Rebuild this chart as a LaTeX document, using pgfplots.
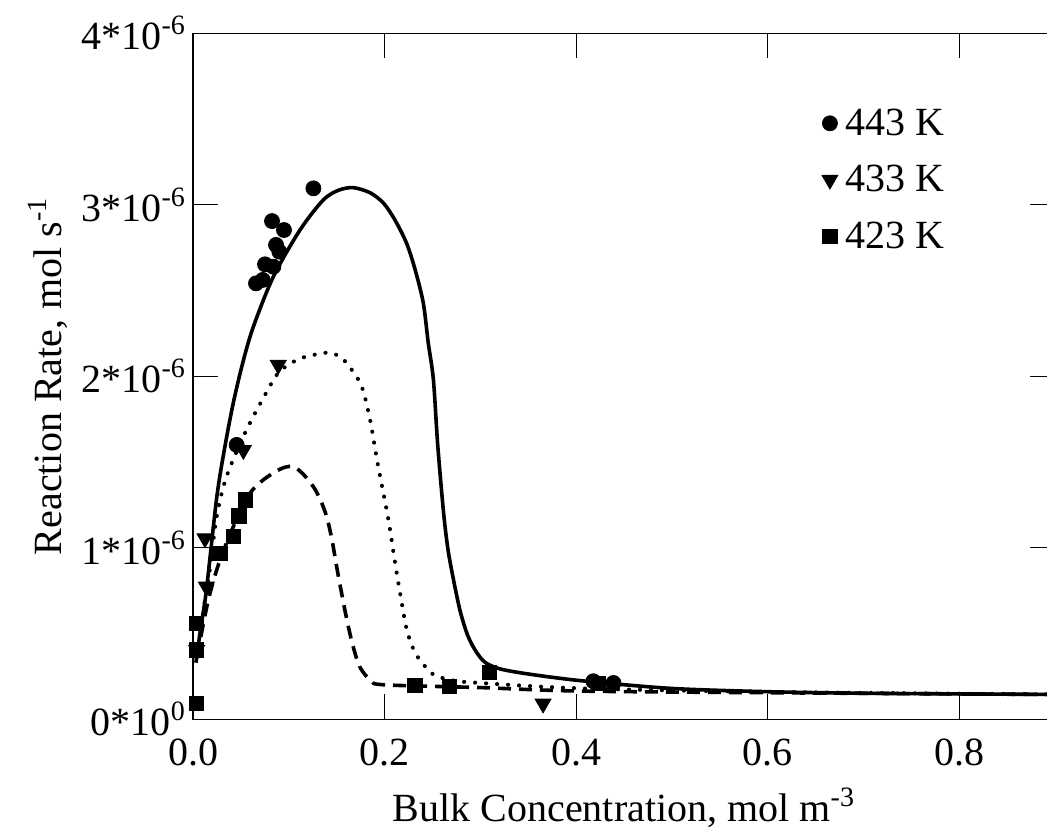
\documentclass[border=0pt]{standalone}
\usepackage{fontspec}
\setmainfont{Liberation Serif}
\usepackage{pgfplots}
\pgfplotsset{compat=1.18}

\begin{document}
\begin{tikzpicture}
\begin{axis}[
    width=431pt, height=343pt,
    scale only axis,
    xmin=0, xmax=0.9,
    ymin=0, ymax=4,
    axis line style={line width=0.8pt},
    major tick style={line width=0.6pt, black},
    major tick length=12.5pt,
    tick align=inside,
    xtick={0,0.2,0.4,0.6,0.8},
    xticklabels={0.0,0.2,0.4,0.6,0.8},
    ytick={0,1,2,3,4},
    yticklabels={0*10\textsuperscript{0},1*10\textsuperscript{-6},2*10\textsuperscript{-6},3*10\textsuperscript{-6},4*10\textsuperscript{-6}},
    tick label style={font=\fontsize{20}{24}\selectfont},
    xticklabel style={yshift=-6.5pt},
    label style={font=\fontsize{20}{24}\selectfont},
    xlabel={Bulk Concentration, mol m\textsuperscript{-3}},
    xlabel style={yshift=-4pt},
    ylabel={Reaction Rate, mol s\textsuperscript{-1}},
    clip=false,
    legend style={draw=none, fill=none, font=\fontsize{20}{24}\selectfont,
        at={(axis cs:0.65,3.61)}, anchor=north west, row sep=9.5pt},
    legend cell align=left,
    legend image code/.code={\draw[#1] plot coordinates {(1pt,0pt)}; \path (6.5pt,0pt);},
]

% solid line, 443 K
\addplot[black, line width=1.8pt, smooth, tension=0.5, mark=none, forget plot] coordinates {
(0.003,0.33) (0.008,0.53) (0.014,0.754) (0.0247,1.29) (0.033,1.58) (0.042,1.843)
(0.052,2.08) (0.063,2.289) (0.0839,2.581) (0.1117,2.853) (0.136,3.028) (0.152,3.085)
(0.1674,3.10) (0.185,3.07) (0.199,3.009) (0.211,2.91) (0.223,2.776) (0.232,2.62)
(0.2405,2.426) (0.2455,2.2) (0.251,1.98) (0.2555,1.6) (0.2617,1.2) (0.2665,0.98)
(0.2727,0.794) (0.279,0.63) (0.2866,0.492) (0.295,0.40) (0.3049,0.332) (0.32,0.295)
(0.341,0.272) (0.375,0.245) (0.4128,0.221) (0.5,0.18) (0.6,0.161) (0.7,0.152)
(0.8,0.148) (0.9,0.145)
};

% dotted line, 433 K
\addplot[black, line width=2pt, line cap=round, dash pattern=on 0.1pt off 5.4pt, smooth, tension=0.5, mark=none, forget plot] coordinates {
(0.004,0.36) (0.0125,0.696) (0.018,0.89) (0.0247,1.181) (0.035,1.415)
(0.0558,1.687) (0.078,1.92) (0.089,2.02) (0.102,2.075) (0.115,2.11) (0.1396,2.138)
(0.150,2.125) (0.16,2.08) (0.1755,1.95) (0.184,1.77) (0.1895,1.6) (0.1935,1.47)
(0.204,1.165) (0.2115,0.894) (0.222,0.553) (0.228,0.44) (0.2348,0.362) (0.251,0.261)
(0.27,0.23) (0.2866,0.217) (0.402,0.181) (0.6,0.16) (0.9,0.145)
};

% dashed line, 423 K
\addplot[black, line width=1.8pt, dash pattern=on 6.5pt off 4pt, smooth, tension=0.5, mark=none, forget plot] coordinates {
(0.004,0.36) (0.016,0.696) (0.0282,0.929) (0.045,1.16) (0.0595,1.318)
(0.072,1.39) (0.085,1.44) (0.095,1.468) (0.1048,1.473) (0.115,1.43) (0.1257,1.356)
(0.133,1.28) (0.1396,1.181) (0.145,1.05) (0.150,0.89) (0.155,0.74) (0.160,0.598)
(0.166,0.45) (0.174,0.307) (0.186,0.225) (0.2003,0.201) (0.3,0.185)
(0.402,0.165) (0.6,0.155) (0.9,0.145)
};

% markers
\addplot[black, only marks, mark=*, mark size=3.75pt] coordinates {
(0.0658,2.542) (0.0728,2.562) (0.0752,2.653) (0.0839,2.639) (0.0867,2.766)
(0.0901,2.727) (0.0825,2.905) (0.0950,2.853) (0.1257,3.096) (0.0456,1.60)
(0.418,0.222) (0.439,0.212)
};
\addlegendentry{443 K}

\addplot[black, only marks, mark=triangle*, mark size=4.6pt, mark options={rotate=180}] coordinates {
(0.089,2.066) (0.0526,1.57) (0.0125,1.055) (0.014,0.773) (0.0038,0.404) (0.3655,0.091)
};
\addlegendentry{433 K}

\addplot[black, only marks, mark=square*, mark size=3.6pt] coordinates {
(0.0038,0.093) (0.0038,0.404) (0.0038,0.56) (0.028,0.968) (0.042,1.065)
(0.048,1.185) (0.055,1.28) (0.2318,0.197) (0.268,0.191) (0.3096,0.272) (0.423,0.21)
};
\addlegendentry{423 K}

\end{axis}
\pgfresetboundingbox
\useasboundingbox (-96.5pt,-58.85pt) rectangle (427pt,359.65pt);
\end{tikzpicture}
\end{document}
